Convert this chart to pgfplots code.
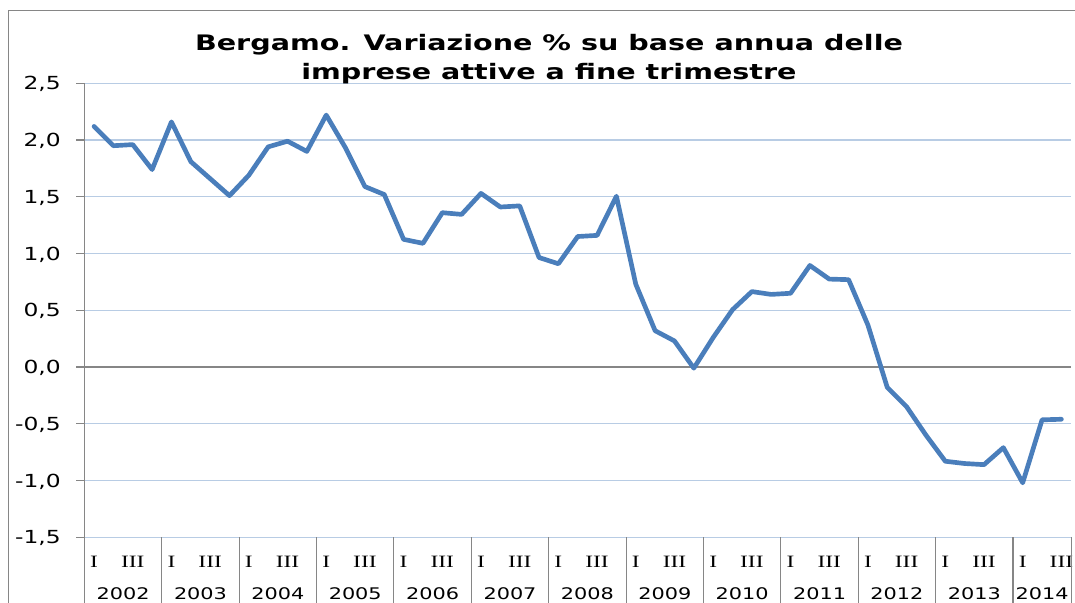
\documentclass[border=0pt]{standalone}
\usepackage{fontspec}
\setmainfont{DejaVu Sans}
\newfontfamily\serifI{Liberation Serif}
\usepackage{pgfplots}
\pgfplotsset{compat=1.18}
\definecolor{lineblue}{RGB}{74,126,187}
\definecolor{gridblue}{RGB}{184,204,228}
\definecolor{axgray}{RGB}{134,134,134}
\newcommand{\sY}[1]{\scalebox{1.3}[1]{#1}}
\newcommand{\sI}[1]{\scalebox{1.35}[1]{#1}}
\newcommand{\sT}[1]{\scalebox{1.34}[1]{#1}}
\begin{document}
\begin{tikzpicture}
\useasboundingbox (0,0) rectangle (806.25pt,452.25pt);
\clip (0,0) rectangle (806.25pt,452.25pt);
\draw[axgray, line width=1pt] (6.2pt,-20pt) rectangle (830pt,444.2pt);
\begin{axis}[
  at={(63.3pt,49.275pt)}, anchor=south west,
  width=740pt, height=340.5pt, scale only axis,
  xmin=0.5, xmax=51.5, ymin=-1.5, ymax=2.5,
  clip=false,
  axis y line*=left, axis x line*=bottom,
  x axis line style={draw=none},
  y axis line style={axgray, line width=1pt, -},
  tick align=outside,
  major tick length=6pt,
  ytick={-1.5,-1,-0.5,0,0.5,1,1.5,2,2.5},
  ytick style={axgray, line width=1pt},
  major x tick style={draw=none},
  ymajorgrids,
  major grid style={gridblue, line width=0.9pt},
  /pgf/number format/fixed,
  /pgf/number format/fixed zerofill,
  /pgf/number format/precision=1,
  /pgf/number format/use comma,
  /pgf/number format/assume math mode=true,
  yticklabel={\sY{\pgfmathprintnumber{\tick}}},
  yticklabel style={font=\fontsize{13.5}{16}\selectfont, anchor=east, inner sep=0pt, text depth=0pt, xshift=-11.5pt},
  xtick={1,3,...,51},
  xticklabels={\sI{I},\sI{III},\sI{I},\sI{III},\sI{I},\sI{III},\sI{I},\sI{III},\sI{I},\sI{III},\sI{I},\sI{III},\sI{I},\sI{III},\sI{I},\sI{III},\sI{I},\sI{III},\sI{I},\sI{III},\sI{I},\sI{III},\sI{I},\sI{III},\sI{I},\sI{III}},
  xticklabel style={font=\serifI\fontsize{13}{15}\selectfont, anchor=base, inner sep=0pt, yshift=-16.5pt},
  extra x ticks={2.5,6.5,10.5,14.5,18.5,22.5,26.5,30.5,34.5,38.5,42.5,46.5,50},
  extra x tick labels={\sY{2002},\sY{2003},\sY{2004},\sY{2005},\sY{2006},\sY{2007},\sY{2008},\sY{2009},\sY{2010},\sY{2011},\sY{2012},\sY{2013},\sY{2014}},
  extra x tick style={grid=none, major tick style={draw=none}, xticklabel style={font=\fontsize{12}{14}\selectfont, yshift=-24.5pt}},
]
\draw[axgray, line width=1pt] (axis cs:0.5,0) -- (axis cs:51.5,0);
\pgfplotsinvokeforeach{0,...,12}{
  \draw[axgray, line width=0.8pt] (axis cs:{0.5+4*#1},-1.5) -- ++(0pt,-60pt);
}
\draw[axgray, line width=0.8pt] (axis cs:51.5,-1.5) -- ++(0pt,-60pt);
\addplot[color=lineblue, line width=3.5pt, line join=round, line cap=round] coordinates {
(1,2.12) (2,1.95) (3,1.96) (4,1.74) (5,2.16) (6,1.81) (7,1.66) (8,1.51) (9,1.69) (10,1.94)
(11,1.99) (12,1.90) (13,2.22) (14,1.93) (15,1.59) (16,1.52) (17,1.125) (18,1.09) (19,1.36) (20,1.345)
(21,1.53) (22,1.41) (23,1.42) (24,0.965) (25,0.91) (26,1.15) (27,1.16) (28,1.505) (29,0.73) (30,0.32)
(31,0.23) (32,-0.01) (33,0.26) (34,0.505) (35,0.665) (36,0.64) (37,0.65) (38,0.895) (39,0.775) (40,0.77)
(41,0.37) (42,-0.18) (43,-0.35) (44,-0.60) (45,-0.83) (46,-0.85) (47,-0.86) (48,-0.71) (49,-1.02) (50,-0.465)
(51,-0.46)
};
\end{axis}
\node[anchor=base, inner sep=0pt, font=\fontsize{16}{19}\selectfont\bfseries] at (411.75pt,414.2pt) {\sT{Bergamo. Variazione \% su base annua delle}};
\node[anchor=base, inner sep=0pt, font=\fontsize{16}{19}\selectfont\bfseries] at (411.75pt,392.8pt) {\sT{imprese attive a fine trimestre}};
\end{tikzpicture}
\end{document}
